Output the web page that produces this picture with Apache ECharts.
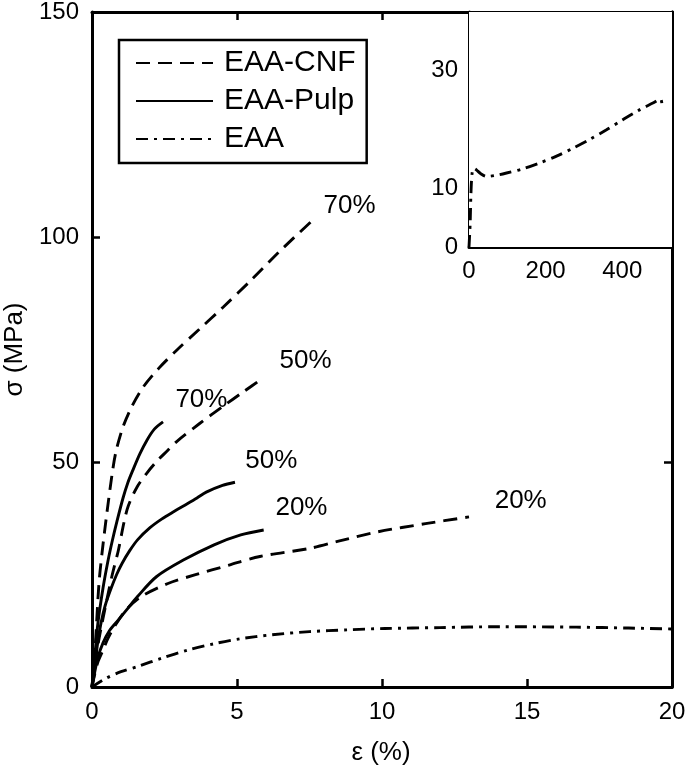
<!DOCTYPE html>
<html>
<head>
<meta charset="utf-8">
<script src="https://cdn.jsdelivr.net/npm/echarts@6/dist/echarts.min.js"></script>
<style>html,body{margin:0;padding:0;background:#fff}#c{width:685px;height:770px}</style>
</head>
<body>
<div id="c"></div>
<script>
// ---- data (strain %, stress MPa) ----
const cnf20 = [[0,0],[0.1,3],[0.2,5.5],[0.38,8.2],[0.55,10.8],[0.77,13.4],[1.17,17.1],[1.7,20.1],[2.62,23.0],[3.54,24.9],[4.73,27.1],[5.79,29.0],[7.5,30.8],[8.5,32.4],[9.87,34.5],[11.5,36.3],[13.0,37.8]];
const cnf50 = [[0,0],[0.1,5],[0.25,11],[0.51,19.3],[0.7,25],[0.91,30.4],[1.1,36.5],[1.25,40.2],[1.55,44.4],[1.9,47.6],[2.24,50.2],[2.6,52.5],[2.93,54.6],[3.7,58.5],[4.52,62.4],[5.2,65.5],[5.88,68.6]];
const cnf70 = [[0,0],[0.05,4],[0.12,10],[0.24,23],[0.35,30],[0.51,38.5],[0.72,48.5],[0.84,52.7],[1.07,57.8],[1.38,62.4],[1.76,66.6],[2.3,70.8],[2.93,74.9],[3.7,79.5],[4.52,84.4],[5.5,90.5],[6.5,97],[7.62,103.8]];
const pulp20 = [[0,0],[0.1,3.5],[0.2,6.5],[0.38,9.8],[0.6,12.5],[0.91,14.9],[1.25,17.6],[1.57,20.1],[2.22,24.5],[3.15,28.2],[4.21,31.6],[5.13,33.8],[5.92,34.9]];
const pulp50 = [[0,0],[0.1,5],[0.2,10],[0.31,14.2],[0.45,18],[0.64,21.6],[0.85,25],[1.04,27.5],[1.3,30.3],[1.57,32.7],[2.0,35.4],[2.4,37.3],[2.8,38.9],[3.2,40.4],[3.62,42],[3.94,43.3],[4.5,44.8],[4.93,45.5]];
const pulp70 = [[0,0],[0.1,7],[0.2,14],[0.38,22],[0.55,28],[0.7,32.5],[0.86,36.8],[1.07,42],[1.23,45.3],[1.41,48.2],[1.65,51.8],[1.9,54.9],[2.15,57.3],[2.45,58.9]];
const eaa = [[0,0],[0.5,2],[1,3.4],[1.6,4.6],[2.4,6.4],[3.3,8.2],[4.2,9.6],[5.1,10.7],[6.2,11.6],[7.5,12.3],[8.8,12.7],[10.1,13.0],[12,13.2],[14,13.4],[16.7,13.3],[18.5,13.1],[20,12.9]];
const eaaFull = [[0,0],[3,4],[5,9],[8,12.5],[12,13.4],[20,13.1],[30,12.5],[46,12.0],[70,12.2],[98,12.6],[140,13.3],[184,14.3],[230,15.5],[271,16.8],[315,18.3],[358,19.9],[400,21.6],[444,23.3],[480,24.5],[500,25.2],[504,24.0]];
// curve annotations [x, y, text]
const annotations = [[8.9,106.9,'70%'],[7.38,72.4,'50%'],[3.79,63.8,'70%'],[6.2,50.2,'50%'],[7.24,39.6,'20%'],[14.8,41.3,'20%']];
// ticks
const mainXTicks = [0,5,10,15,20];
const mainYTicks = [0,50,100,150];
const insetXTicks = [0,200,400];
const insetYLabels = [0,10,30];
const insetYTicks = [2,6,10,14,18,22,26,30,34,38];
const legendNames = ['EAA-CNF','EAA-Pulp','EAA'];

const FONT = 'Liberation Sans';
const lw = 2.9;
const dash = [14,8];
const dashDot = [12,6,3,6];

function line(name, data, type, xi, yi) {
  return {type:'line', name, data, xAxisIndex:xi, yAxisIndex:yi, symbol:'none', smooth:0.3,
    lineStyle:{color:'#000', width:lw, type}, itemStyle:{color:'#000'}, clip:true, silent:true, z:3};
}

const axisLine = {show:true, onZero:false, lineStyle:{color:'#000', width:3}};
const tick = (len, vals) => ({inside:true, length:len, lineStyle:{color:'#000', width:2.5}, customValues:vals});
const lbl = {color:'#000', fontFamily:FONT, fontSize:24};

const option = {
  animation:false,
  backgroundColor:'#fff',
  grid:[
    {left:92, right:13, top:12, bottom:83, outerBoundsMode:'none', containLabel:false},
    {left:469, right:13, top:12, bottom:523, outerBoundsMode:'none', containLabel:false, show:true, backgroundColor:'#fff', borderWidth:0, z:2}
  ],
  legend:{data:legendNames, orient:'vertical', left:119, top:40, itemWidth:77, itemHeight:14, itemGap:8,
    padding:[8,11,9,16], borderColor:'#000', borderWidth:2.5, backgroundColor:'#fff',
    itemStyle:{opacity:0, borderWidth:0},
    textStyle:{color:'#000', fontFamily:FONT, fontSize:30, padding:[0,0,0,6]}, selectedMode:false},
  xAxis:[
    {type:'value', gridIndex:0, min:0, max:20, position:'bottom', axisLine, splitLine:{show:false},
      axisTick:tick(8, mainXTicks),
      axisLabel:{...lbl, margin:13, customValues:mainXTicks},
      name:'ε (%)', nameLocation:'middle', nameGap:53, nameTextStyle:{color:'#000', fontFamily:FONT, fontSize:26, padding:[0,2,0,0]}},
    {type:'value', gridIndex:0, min:0, max:20, position:'top', axisLine, splitLine:{show:false},
      axisTick:tick(8, [5,10]), axisLabel:{show:false}},
    {type:'value', gridIndex:1, min:0, max:530, position:'bottom', axisLine, splitLine:{show:false},
      axisTick:tick(4, insetXTicks),
      axisLabel:{...lbl, margin:12, customValues:insetXTicks}},
    {type:'value', gridIndex:1, min:0, max:530, position:'top', axisLine, splitLine:{show:false},
      axisTick:tick(4, [200,400]), axisLabel:{show:false}}
  ],
  yAxis:[
    {type:'value', gridIndex:0, min:0, max:150, position:'left', axisLine, splitLine:{show:false},
      axisTick:tick(8, mainYTicks),
      axisLabel:{...lbl, margin:13, customValues:mainYTicks},
      name:'σ (MPa)', nameLocation:'middle', nameGap:54, nameRotate:90, nameTextStyle:{color:'#000', fontFamily:FONT, fontSize:26}},
    {type:'value', gridIndex:0, min:0, max:150, position:'right', axisLine, splitLine:{show:false},
      axisTick:tick(8, [50]), axisLabel:{show:false}},
    {type:'value', gridIndex:1, min:0, max:40, position:'left', axisLine, splitLine:{show:false},
      axisTick:tick(3, insetYTicks),
      axisLabel:{...lbl, margin:11, customValues:insetYLabels}},
    {type:'value', gridIndex:1, min:0, max:40, position:'right', axisLine, splitLine:{show:false},
      axisTick:tick(3, insetYTicks), axisLabel:{show:false}}
  ],
  series:[
    line('EAA-CNF', cnf20, dash, 0, 0),
    line('EAA-CNF', cnf50, dash, 0, 0),
    line('EAA-CNF', cnf70, dash, 0, 0),
    line('EAA-Pulp', pulp20, 'solid', 0, 0),
    line('EAA-Pulp', pulp50, 'solid', 0, 0),
    line('EAA-Pulp', pulp70, 'solid', 0, 0),
    line('EAA', eaa, dashDot, 0, 0),
    line('EAA', eaaFull, dashDot, 2, 2),
    {type:'scatter', xAxisIndex:0, yAxisIndex:0, symbolSize:1, silent:true, z:4,
      itemStyle:{color:'rgba(0,0,0,0)', opacity:1},
      data:annotations.map(a=>({value:[a[0],a[1]], name:a[2]})),
      label:{show:true, position:[0,0], align:'center', verticalAlign:'middle', formatter:p=>p.name,
        color:'#000', opacity:1, textBorderWidth:0, fontFamily:FONT, fontSize:26}}
  ]
};
const chart = echarts.init(document.getElementById('c'), null, {renderer:'canvas'});
chart.setOption(option);
</script>
</body>
</html>
